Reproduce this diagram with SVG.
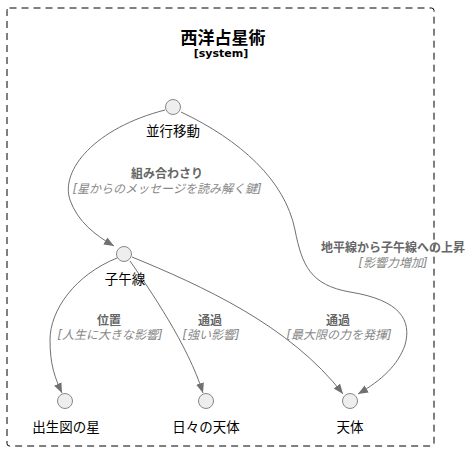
<svg xmlns="http://www.w3.org/2000/svg" width="472" height="451" viewBox="0 0 472 451">
<style>
text{font-family:"DejaVu Sans","Noto Sans CJK JP",sans-serif;}
.title{font-size:17px;font-weight:bold;fill:#000;text-anchor:middle;}
.sub{font-size:11px;font-weight:bold;fill:#000;text-anchor:middle;}
.nl{font-size:13.5px;fill:#000;text-anchor:middle;}
.el{font-size:12px;font-weight:bold;fill:#666;text-anchor:middle;}
.et{font-size:12px;font-style:italic;fill:#888;text-anchor:middle;}
.node{fill:#eeeeee;stroke:#888;stroke-width:1;}
.edge{fill:none;stroke:#707070;stroke-width:1;marker-end:url(#arr);}
</style>
<defs>
<marker id="arr" viewBox="0 0 10 10" refX="10" refY="5" markerWidth="10" markerHeight="10" markerUnits="userSpaceOnUse" orient="auto">
<path d="M0,1 L10,5 L0,9 z" fill="#707070"/>
</marker>
</defs>
<rect x="7" y="8" width="427" height="438" rx="2.5" fill="none" stroke="#000" stroke-width="1" stroke-dasharray="7 5"/>
<text class="title" x="223" y="44">西洋占星術</text>
<text class="sub" x="221" y="57">[system]</text>
<g id="connectors">
<path class="edge" d="M165,110 C95,128 60,170 70,200 C78,222 95,235 114,246"/>
<path class="edge" d="M181,112 C240,140 285,180 295,230 C302,265 310,285 350,292 C400,300 412,320 405,345 C398,365 382,380 358,394"/>
<path class="edge" d="M117,258 C75,275 50,310 50,340 C50,365 55,378 62,393"/>
<path class="edge" d="M130,261 C150,290 188,345 203,393"/>
<path class="edge" d="M132,257 C200,285 290,325 343,394"/>
<text class="el" x="167" y="178">組み合わさり</text>
<text class="et" x="167" y="193">[星からのメッセージを読み解く鍵]</text>
<text class="el" x="393" y="252">地平線から子午線への上昇</text>
<text class="et" x="393" y="267">[影響力増加]</text>
<text class="el" x="109" y="325">位置</text>
<text class="et" x="110" y="339">[人生に大きな影響]</text>
<text class="el" x="210" y="325">通過</text>
<text class="et" x="211" y="339">[強い影響]</text>
<text class="el" x="338" y="325">通過</text>
<text class="et" x="339" y="339">[最大限の力を発揮]</text>
</g>
<g id="node-heikou">
<circle class="node" cx="173" cy="107" r="7.5"/>
<text class="nl" x="173" y="136">並行移動</text>
</g>
<g id="node-shigosen">
<circle class="node" cx="124" cy="254" r="7.5"/>
<text class="nl" x="125" y="284">子午線</text>
</g>
<g id="node-shusseizu">
<circle class="node" cx="65" cy="401" r="7.5"/>
<text class="nl" x="66" y="432">出生図の星</text>
</g>
<g id="node-hibi">
<circle class="node" cx="206" cy="401" r="7.5"/>
<text class="nl" x="206" y="432">日々の天体</text>
</g>
<g id="node-tentai">
<circle class="node" cx="350" cy="401" r="7.5"/>
<text class="nl" x="350" y="432">天体</text>
</g>
</svg>
